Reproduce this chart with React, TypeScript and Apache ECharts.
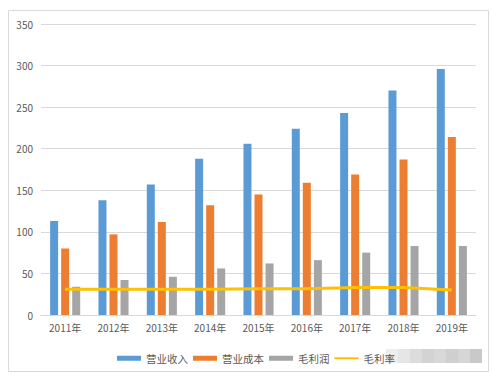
import React, { useEffect, useRef } from "react";
import * as echarts from "echarts";

const categories = ["2011年", "2012年", "2013年", "2014年", "2015年", "2016年", "2017年", "2018年", "2019年"];
const revenue = [113, 138, 157, 188, 206, 224, 243, 270, 296];
const cost = [80, 97, 112, 132, 145, 159, 169, 187, 214];
const grossProfit = [34, 42, 46, 56, 62, 66, 75, 83, 83];
const grossMargin = [31, 31, 31, 31, 31.5, 31.5, 33, 33, 30];
const seriesNames = ["营业收入", "营业成本", "毛利润", "毛利率"];
const mosaicShades = ["#EDEDED", "#E6E6E6", "#DCDCDC", "#D3D3D3", "#D8D8D8", "#CFCFCF", "#D6D6D6", "#C9C9C9"];

export default function App() {
  const ref = useRef<HTMLDivElement>(null);
  useEffect(() => {
    if (!ref.current) return;
    const chart = echarts.init(ref.current, null, { renderer: "svg" });
    const font = "'Noto Sans CJK SC', 'Noto Sans', sans-serif";
    const mosaic = mosaicShades.map((c, i) => ({
      type: "rect",
      shape: { x: 386 + i * 12, y: 349, width: 12, height: 14 },
      style: { fill: c },
      silent: true,
    }));
    chart.setOption({
      animation: false,
      backgroundColor: "#ffffff",
      textStyle: { fontFamily: font },
      graphic: [
        {
          type: "rect",
          shape: { x: 8.5, y: 10.5, width: 480, height: 361 },
          style: { fill: "none", stroke: "#D9D9D9", lineWidth: 1 },
          silent: true,
        },
        ...mosaic,
      ],
      grid: { left: 41, right: 16, top: 24, bottom: 63 },
      legend: {
        left: 112,
        top: 348,
        itemWidth: 24,
        itemHeight: 5,
        itemGap: 5,
        textStyle: { fontSize: 10.5, color: "#595959", fontFamily: font },
        data: [
          { name: seriesNames[0], icon: "rect" },
          { name: seriesNames[1], icon: "rect" },
          { name: seriesNames[2], icon: "rect" },
          { name: seriesNames[3], icon: "path://M0 0H24V2H0Z" },
        ],
      },
      xAxis: {
        type: "category",
        data: categories,
        axisLine: { lineStyle: { color: "#D9D9D9" } },
        axisTick: { show: false },
        axisLabel: { color: "#595959", fontSize: 10, margin: 7, fontFamily: font },
      },
      yAxis: {
        type: "value",
        min: 0,
        max: 350,
        interval: 50,
        axisLine: { show: false },
        axisTick: { show: false },
        axisLabel: { color: "#595959", fontSize: 10, margin: 8, fontFamily: font },
        splitLine: { lineStyle: { color: "#D9D9D9" } },
      },
      series: [
        {
          name: seriesNames[0],
          type: "bar",
          data: revenue,
          barWidth: 8,
          barGap: "38%",
          itemStyle: { color: "#5B9BD5" },
        },
        {
          name: seriesNames[1],
          type: "bar",
          data: cost,
          barWidth: 8,
          barGap: "38%",
          itemStyle: { color: "#ED7D31" },
        },
        {
          name: seriesNames[2],
          type: "bar",
          data: grossProfit,
          barWidth: 8,
          barGap: "38%",
          itemStyle: { color: "#A5A5A5" },
        },
        {
          name: seriesNames[3],
          type: "line",
          data: grossMargin,
          symbol: "none",
          lineStyle: { color: "#FFC000", width: 3 },
          itemStyle: { color: "#FFC000" },
        },
      ],
    });
    return () => chart.dispose();
  }, []);
  return (
    <div
      ref={ref}
      style={{ position: "fixed", left: 0, top: 0, width: 492, height: 378 }}
    />
  );
}
